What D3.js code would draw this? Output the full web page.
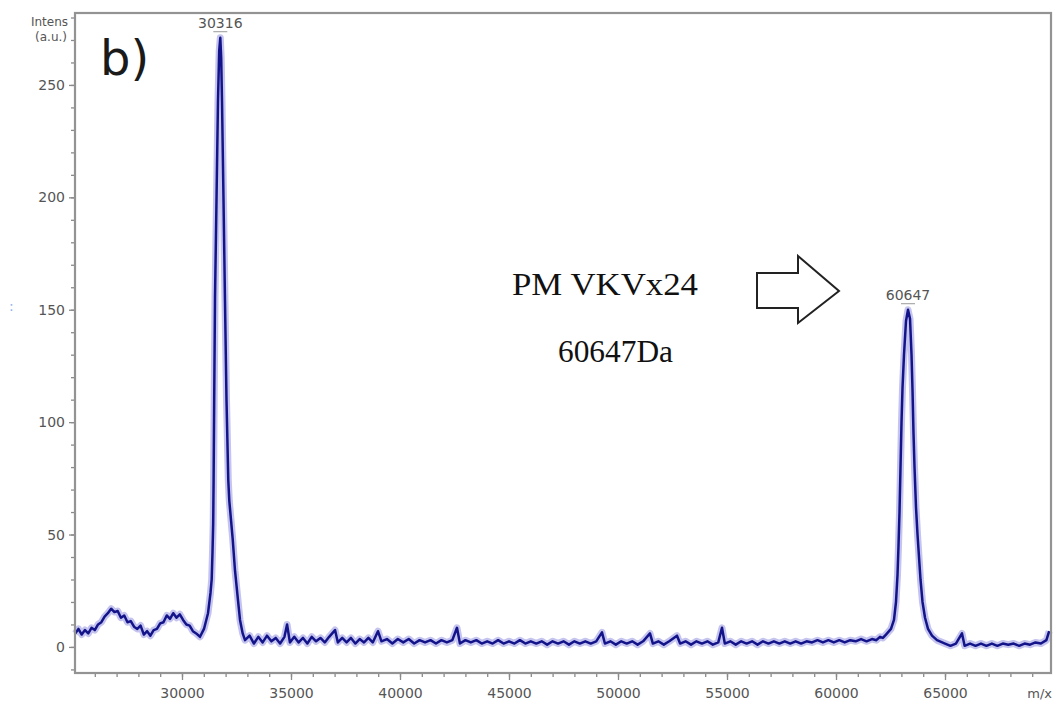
<!DOCTYPE html>
<html>
<head>
  <meta charset="utf-8">
  <title>Mass spectrum b)</title>
  <style>
    html, body { margin: 0; padding: 0; background: #fff; overflow: hidden; }
    .tick text { font-family: "DejaVu Sans", sans-serif; font-size: 14px; fill: #555; }
    .tick line { stroke: #8a8a8a; stroke-width: 1.3; }
    .domain { display: none; }
  </style>
  <script src="https://d3js.org/d3.v7.min.js"></script>
</head>
<body>
<div id="chart"></div>
<script>
  // spectrum in pieces (m/z, intensity)
  const humpMz = [25100, 25250, 25400, 25550, 25700, 25850, 26000, 26150, 26300, 26450, 26600, 26750, 26900, 27050, 27200, 27350, 27500, 27650, 27800, 27950, 28100, 28250, 28400, 28550, 28700, 28850, 29000, 29150, 29300, 29450, 29600, 29750, 29900, 30050, 30200, 30350, 30500, 30650, 30826];
  const humpI = [6, 8, 5.5, 7.5, 6, 8.5, 7.5, 10, 11, 13.5, 15, 17, 15.5, 16, 13, 14, 11, 11.5, 9, 8, 9.5, 5.5, 7, 5, 7.5, 8, 10.5, 11, 14, 12.5, 15, 13, 14.5, 12, 10, 9.5, 7, 6, 4.5];

  const peak1Mz = [31009, 31193, 31307, 31362, 31399, 31431, 31450, 31477, 31514, 31583, 31651, 31706, 31757, 31798, 31835, 31904, 31972, 32041, 32124, 32170, 32326, 32431, 32555, 32661, 32784, 32890];
  const peak1I = [8, 15, 24, 30, 42, 55, 74, 110, 155, 199, 243, 265, 271, 262, 243, 199, 154, 110, 74, 65, 48, 34, 22, 12, 6, 3];

  const baseMz = [33100, 33300, 33500, 33700, 33900, 34100, 34300, 34500, 34700, 34820, 34950, 35150, 35350, 35550, 35750, 35950, 36150, 36350, 36550, 36750, 37020, 37150, 37350, 37550, 37750, 37950, 38150, 38350, 38550, 38750, 38990, 39150, 39400, 39650, 39900, 40150, 40400, 40650, 40900, 41150, 41400, 41650, 41900, 42150, 42400, 42614, 42750, 43000, 43250, 43500, 43750, 44000, 44250, 44500, 44750, 45000, 45250, 45500, 45750, 46000, 46250, 46500, 46750, 47000, 47250, 47500, 47750, 48000, 48250, 48500, 48750, 49000, 49265, 49400, 49650, 49900, 50150, 50400, 50650, 50900, 51150, 51467, 51600, 51850, 52100, 52350, 52706, 52850, 53100, 53350, 53600, 53850, 54100, 54350, 54600, 54770, 54900, 55150, 55400, 55650, 55900, 56150, 56400, 56650, 56900, 57150, 57400, 57650, 57900, 58150, 58400, 58650, 58900, 59150, 59400, 59650, 59900, 60150, 60400, 60650, 60900, 61150, 61400, 61650, 61850];
  const baseI = [5, 1.5, 4.5, 2, 5, 2.5, 4, 1.5, 4.5, 10, 2, 4.5, 2, 4, 1.5, 4.5, 2.5, 4, 2, 4.5, 7.5, 2, 4, 2, 4, 1.5, 3.5, 2, 4, 2, 7, 2.5, 3.5, 1.5, 3.5, 2, 3.5, 1.5, 3, 2, 3, 1.5, 3, 2, 3, 8.5, 1.5, 3, 2, 3, 1.5, 2.5, 1.5, 3, 1.5, 2.5, 1.5, 3, 1.5, 2.5, 1.5, 2.5, 1, 2.5, 1.5, 2.5, 1, 2.5, 1.5, 2.5, 1.5, 2.5, 6.5, 1.5, 2.5, 1, 2.5, 1.5, 2.5, 1, 2.5, 6, 1.5, 2.5, 1, 2.5, 5, 1.5, 2.5, 1, 2.5, 1.5, 2.5, 1, 2, 8.5, 1.5, 2.5, 1, 2.5, 1.5, 2.5, 1, 2.5, 1.5, 2.5, 1.5, 2.5, 1.5, 2.5, 1.5, 2.5, 2, 3, 2, 3, 2, 3, 2, 3, 2.5, 3.5, 2.5, 3.5, 3];

  const peak2Mz = [62018, 62150, 62293, 62522, 62660, 62752, 62821, 62867, 62913, 62959, 63005, 63050, 63119, 63211, 63303, 63395, 63464, 63510, 63555, 63601, 63670, 63739, 63807, 63876, 63968, 64083, 64220, 64403, 64633, 65000];
  const peak2I = [4.5, 4, 5.5, 8, 12, 20, 32, 45, 60, 80, 100, 115, 130, 145, 150, 146, 130, 114, 95, 80, 62, 50, 40, 30, 20, 13, 8, 5, 3, 1.5];

  const tailMz = [65250, 65500, 65779, 65900, 66150, 66400, 66650, 66900, 67150, 67400, 67650, 67900, 68150, 68400, 68650, 68900, 69150, 69400, 69650, 69780];
  const tailI = [0.5, 1.5, 6, 0.5, 1.5, 0.5, 1.5, 0.5, 1.5, 0.5, 1.5, 1, 1.5, 0.5, 1.5, 1, 2, 1.5, 3, 7];

  const xTicks = [30000, 35000, 40000, 45000, 50000, 55000, 60000, 65000];
  const yTicks = [0, 50, 100, 150, 200, 250];
  const peakLabels = ["30316", "60647"];
  const peakMz = [31757, 63303];
  const peakI = [271, 150];

  const width = 1057;
  const height = 704;

  const spectrum = []
    .concat(humpMz.map((m, i) => [m, humpI[i]]))
    .concat(peak1Mz.map((m, i) => [m, peak1I[i]]))
    .concat(baseMz.map((m, i) => [m, baseI[i]]))
    .concat(peak2Mz.map((m, i) => [m, peak2I[i]]))
    .concat(tailMz.map((m, i) => [m, tailI[i]]));

  const x = d3.scaleLinear().domain([25092, 69862]).range([75, 1051]);
  const y = d3.scaleLinear().domain([-11.6, 282]).range([673, 13]);

  const svg = d3.select("#chart")
    .append("svg")
    .attr("width", width)
    .attr("height", height)
    .style("background", "#fff");

  // minor ticks first, majors on top
  const xMinor = d3.range(26000, 70000, 1000);
  const yMinor = d3.range(-10, 281, 10);

  svg.append("g")
    .attr("transform", "translate(0,673)")
    .call(d3.axisBottom(x).tickValues(xMinor).tickSize(4).tickFormat(""));
  svg.append("g")
    .attr("transform", "translate(0,673)")
    .call(d3.axisBottom(x).tickValues(xTicks).tickSize(7).tickPadding(8).tickFormat(d3.format("d")));

  svg.append("g")
    .attr("transform", "translate(75,0)")
    .call(d3.axisLeft(y).tickValues(yMinor).tickSize(4).tickFormat(""));
  svg.append("g")
    .attr("transform", "translate(75,0)")
    .call(d3.axisLeft(y).tickValues(yTicks).tickSize(6).tickPadding(4));

  const line = d3.line()
    .x(d => x(d[0]))
    .y(d => y(d[1]));

  // light halo, then the dark trace
  svg.append("path")
    .datum(spectrum)
    .attr("fill", "none")
    .attr("stroke", "#9c9ce4")
    .attr("stroke-width", 7)
    .attr("stroke-linejoin", "round")
    .attr("opacity", 0.6)
    .attr("d", line);

  svg.append("path")
    .datum(spectrum)
    .attr("fill", "none")
    .attr("stroke", "#14148a")
    .attr("stroke-width", 2.5)
    .attr("stroke-linejoin", "round")
    .attr("d", line);

  // frame
  svg.append("rect")
    .attr("x", 75).attr("y", 13)
    .attr("width", 976).attr("height", 660)
    .attr("fill", "none")
    .attr("stroke", "#939393")
    .attr("stroke-width", 2.2);

  // peak labels
  peakLabels.forEach((t, i) => {
    const px = x(peakMz[i]);
    const py = y(peakI[i]) - 10;
    svg.append("text")
      .attr("x", px).attr("y", py)
      .attr("text-anchor", "middle")
      .style("font-family", "DejaVu Sans, sans-serif")
      .style("font-size", "14px")
      .style("fill", "#555")
      .text(t);
    svg.append("line")
      .attr("x1", px - 7).attr("x2", px + 7)
      .attr("y1", py + 4).attr("y2", py + 4)
      .attr("stroke", "#999").attr("stroke-width", 1);
  });

  // axis titles
  svg.append("text").attr("x", 68).attr("y", 26).attr("text-anchor", "end")
    .style("font-family", "DejaVu Sans, sans-serif").style("font-size", "12px").style("fill", "#555")
    .text("Intens");
  svg.append("text").attr("x", 67).attr("y", 41).attr("text-anchor", "end")
    .style("font-family", "DejaVu Sans, sans-serif").style("font-size", "12px").style("fill", "#555")
    .text("(a.u.)");
  svg.append("text").attr("x", 1052).attr("y", 698).attr("text-anchor", "end")
    .style("font-family", "DejaVu Sans, sans-serif").style("font-size", "13px").style("fill", "#555")
    .text("m/x");
  svg.append("text").attr("x", 9).attr("y", 311)
    .style("font-family", "DejaVu Sans, sans-serif").style("font-size", "14px").style("fill", "#8fb3ef")
    .text(":");

  // panel letter
  svg.append("text").attr("x", 100).attr("y", 75)
    .style("font-family", "DejaVu Sans, sans-serif").style("font-size", "48px").style("fill", "#1a1a1a")
    .text("b)");

  // annotation
  svg.append("text").attr("x", 512).attr("y", 295)
    .attr("textLength", 186).attr("lengthAdjust", "spacingAndGlyphs")
    .style("font-family", "Liberation Serif, serif").style("font-size", "32px").style("fill", "#111")
    .text("PM VKVx24");
  svg.append("text").attr("x", 558).attr("y", 362)
    .attr("textLength", 115).attr("lengthAdjust", "spacingAndGlyphs")
    .style("font-family", "Liberation Serif, serif").style("font-size", "31px").style("fill", "#111")
    .text("60647Da");

  svg.append("polygon")
    .attr("points", "757,273 798,273 798,256 839,291 798,323 798,308 757,308")
    .attr("fill", "#fff")
    .attr("stroke", "#222")
    .attr("stroke-width", 2);
</script>
</body>
</html>
